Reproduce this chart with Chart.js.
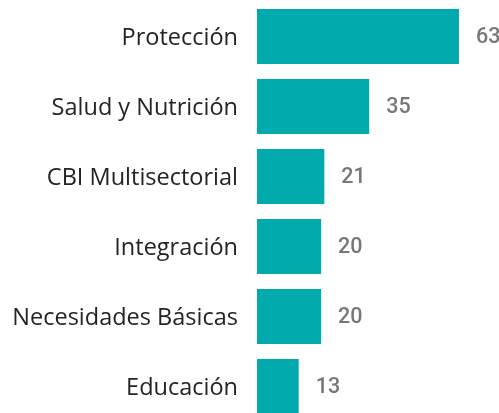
<!DOCTYPE html>
<html>
<head>
<meta charset="utf-8">
<script src="https://cdn.jsdelivr.net/npm/chart.js@4"></script>
<style>
  html, body { margin: 0; padding: 0; background: #fff; overflow: hidden; }
  #wrap { position: absolute; left: 0; top: 0; width: 499px; height: 422px; }
</style>
</head>
<body>
<div id="wrap"><canvas id="barChart"></canvas></div>
<script>
// ---- Data ----
const categories = ['Protección', 'Salud y Nutrición', 'CBI Multisectorial', 'Integración', 'Necesidades Básicas', 'Educación'];
const values = [63, 35, 21, 20, 20, 13];

const barColor = '#01AAAD';
const labelColor = '#252423';
const valueColor = '#777777';

// value labels to the right of each bar
const valueLabels = {
  id: 'valueLabels',
  afterDatasetsDraw(chart) {
    const { ctx } = chart;
    const meta = chart.getDatasetMeta(0);
    ctx.save();
    ctx.font = '500 21.5px Roboto';
    ctx.fillStyle = valueColor;
    ctx.textAlign = 'left';
    ctx.textBaseline = 'middle';
    meta.data.forEach((bar, i) => {
      ctx.fillText(String(values[i]), bar.x + 17, bar.y + 1);
    });
    ctx.restore();
  }
};

new Chart(document.getElementById('barChart'), {
  type: 'bar',
  data: {
    labels: categories,
    datasets: [{
      data: values,
      backgroundColor: barColor,
      borderWidth: 0,
      barPercentage: 1,
      categoryPercentage: 0.786
    }]
  },
  options: {
    indexAxis: 'y',
    responsive: true, maintainAspectRatio: false,
    animation: false,
    layout: { padding: { top: 1.5, bottom: 0.5, left: 0, right: 17.6 } },
    plugins: { legend: { display: false }, tooltip: { enabled: false } },
    scales: {
      x: { display: false, min: 0, max: 70 },
      y: {
        grid: { display: false, drawTicks: false },
        border: { display: false },
        ticks: { color: labelColor, font: { family: 'Open Sans', size: 23.5 }, padding: 19, labelOffset: 1.5 },
        afterFit: (scale) => {
          scale.width = 257;
          scale.paddingTop = 0;
          scale.paddingBottom = 0;
        }
      }
    }
  },
  plugins: [valueLabels]
});
</script>
</body>
</html>
